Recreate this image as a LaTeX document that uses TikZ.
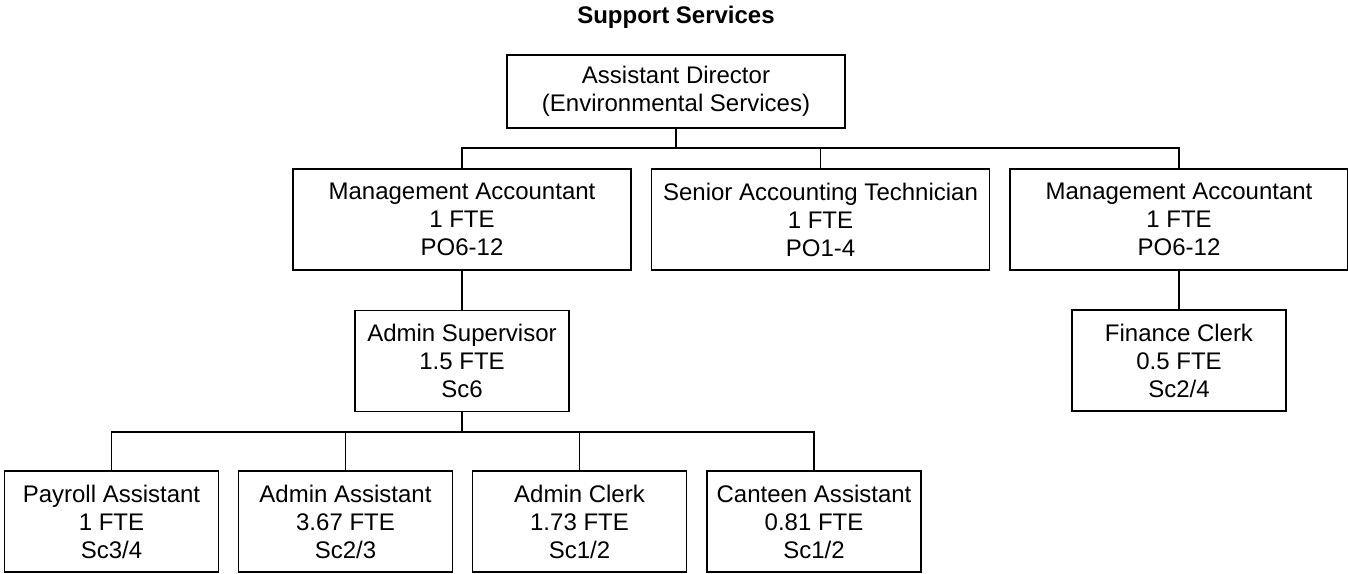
\documentclass[tikz,border=0pt]{standalone}
\usepackage{fontspec}
\setmainfont{Liberation Sans}
\usetikzlibrary{positioning}

\begin{document}
\begin{tikzpicture}[x=0.5pt, y=-0.5pt,
    post/.style={draw, rectangle, line width=0.9pt, align=center, inner sep=0pt,
      font=\fontsize{12}{14}\selectfont},
    widepost/.style={post, minimum width=169pt, minimum height=50.5pt},
    smallpost/.style={post, minimum width=107pt, minimum height=50.5pt},
    link/.style={line width=0.9pt}]
        % Page frame (reference is 1348 x 573 px, 1 px = 0.5pt)
        \useasboundingbox (0,0) rectangle (1348,573);

        % Title
        \node[font=\bfseries\fontsize{12}{14}\selectfont] (title) at (676,17) {Support Services};

        % Top level
        \node[post, minimum width=169pt, minimum height=36.5pt] (director) at (676,91.5)
            {Assistant Director\\(Environmental Services)};

        % Second level
        \node[widepost] (accLeft) at (462,219.5) {Management Accountant\\1 FTE\\PO6-12};
        \node[widepost] (senior) at (820.5,219.5) {Senior Accounting Technician\\1 FTE\\PO1-4};
        \node[widepost] (accRight) at (1179,219.5) {Management Accountant\\1 FTE\\PO6-12};

        % Third level
        \node[smallpost] (supervisor) at (462,361) {Admin Supervisor\\1.5 FTE\\Sc6};
        \node[smallpost] (finance) at (1179,360.5) {Finance Clerk\\0.5 FTE\\Sc2/4};

        % Fourth level (under the supervisor)
        \node[smallpost] (payroll) at (111.5,521.5) {Payroll Assistant\\1 FTE\\Sc3/4};
        \node[smallpost] (adminAsst) at (345.5,521.5) {Admin Assistant\\3.67 FTE\\Sc2/3};
        \node[smallpost] (adminClerk) at (579.5,521.5) {Admin Clerk\\1.73 FTE\\Sc1/2};
        \node[smallpost] (canteen) at (814,521.5) {Canteen Assistant\\0.81 FTE\\Sc1/2};

        % Bus junctions
        \coordinate (topBus) at (676,148);
        \coordinate (adminBus) at (462,432);

        % Connectors from the director
        \draw[link] (director.south) -- (topBus);
        \draw[link] (accLeft.north) |- (topBus) -| (accRight.north);
        \draw[link] (senior.north) -- (senior.north |- topBus);

        % Connectors below the accountants
        \draw[link] (accLeft.south) -- (supervisor.north);
        \draw[link] (accRight.south) -- (finance.north);

        % Connectors from the supervisor
        \draw[link] (supervisor.south) -- (adminBus);
        \draw[link] (payroll.north) |- (adminBus) -| (canteen.north);
        \draw[link] (adminAsst.north) -- (adminAsst.north |- adminBus);
        \draw[link] (adminClerk.north) -- (adminClerk.north |- adminBus);

\end{tikzpicture}
\end{document}
